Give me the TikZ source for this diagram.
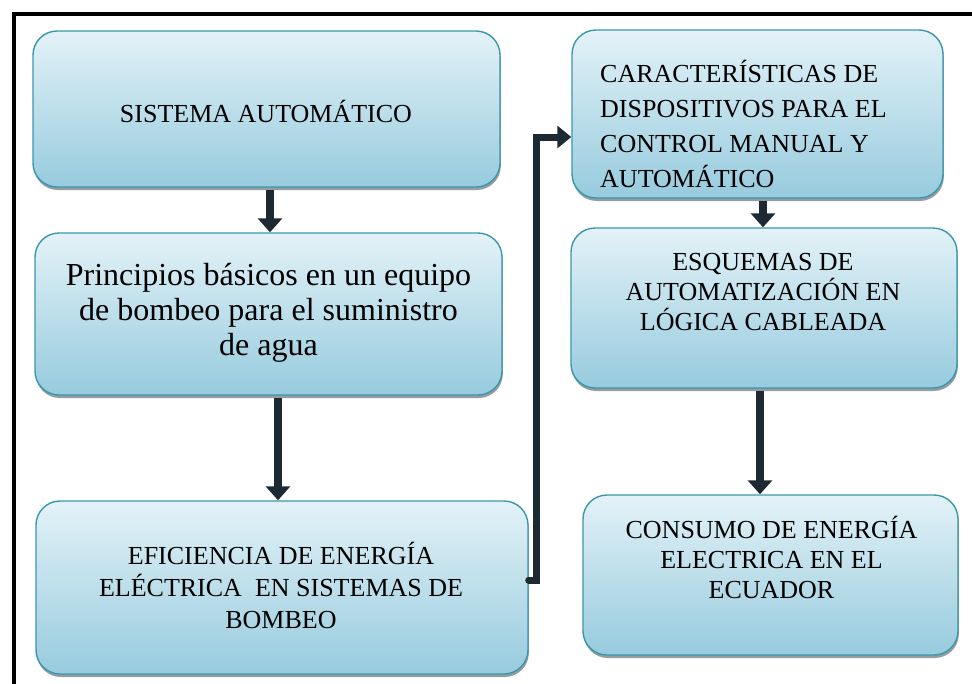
\documentclass[tikz,border=0pt]{standalone}
\usepackage{fontspec}
\setmainfont{Liberation Serif}
\usetikzlibrary{arrows.meta,shadows}
\definecolor{boxtop}{HTML}{E3F2F7}
\definecolor{boxbot}{HTML}{97CBDE}
\definecolor{boxline}{HTML}{3A97AB}
\definecolor{arrowc}{HTML}{1E2A33}
\definecolor{shadowc}{HTML}{8A9296}
\tikzset{
  box/.style={rectangle, rounded corners=24pt, draw=boxline, line width=1.4pt,
    top color=boxtop, bottom color=boxbot, inner sep=0pt,
    drop shadow={shadow xshift=0.8pt, shadow yshift=-3pt, fill=shadowc, opacity=0.9}},
  txt/.style={inner sep=0pt, align=center, text=black},
  arr/.style={line width=8.5pt, draw=arrowc, -{Triangle[width=24pt,length=14pt]}},
  elbow/.style={line width=7pt, draw=arrowc, line cap=round, -{Triangle[width=22pt,length=14pt]}},
  frame/.style={line width=4pt, draw=black}
}
\begin{document}
\begin{tikzpicture}[x=1pt,y=-1pt]
\useasboundingbox (0,0) rectangle (972,683);
\draw[frame] (13.5,690) -- (13.5,13.5) -- (980,13.5);

\node[box, minimum width=467pt, minimum height=156pt] (b1) at (266.5,109) {};
\node[box, minimum width=467pt, minimum height=162pt] (b2) at (268.5,314) {};
\node[box, minimum width=492pt, minimum height=173pt] (b3) at (282,587.5) {};
\node[box, minimum width=371pt, minimum height=168pt] (b4) at (757.5,114) {};
\node[box, minimum width=386pt, minimum height=160pt] (b5) at (764,308) {};
\node[box, minimum width=375pt, minimum height=160pt] (b6) at (770.5,575) {};

\node[txt, font=\fontsize{26}{32}\selectfont] (t1) at (266,111) {SISTEMA AUTOMÁTICO};
\node[txt, font=\fontsize{32}{35}\selectfont] (t2) at (268.5,313) {Principios básicos en un equipo\\de bombeo para el suministro\\de agua};
\node[txt, font=\fontsize{26}{32}\selectfont] (t3) at (281,585) {EFICIENCIA DE ENERGÍA\\ELÉCTRICA\ \ EN SISTEMAS DE\\BOMBEO};
\node[txt, align=left, anchor=west, font=\fontsize{26}{35}\selectfont] (t4) at (600,124) {CARACTERÍSTICAS DE\\DISPOSITIVOS PARA EL\\CONTROL MANUAL Y\\AUTOMÁTICO};
\node[txt, font=\fontsize{26}{30}\selectfont] (t5) at (763,292) {ESQUEMAS DE\\AUTOMATIZACIÓN EN\\LÓGICA CABLEADA};
\node[txt, font=\fontsize{26}{30}\selectfont] (t6) at (771.5,557) {CONSUMO DE ENERGÍA\\ELECTRICA EN EL\\ECUADOR};

\draw[arr] ([xshift=3.5pt,yshift=-2pt]b1.south) -- ([xshift=3.5pt]b1.south |- b2.north);
\draw[arr] ([xshift=9.5pt,yshift=-2pt]b2.south) -- ([xshift=9.5pt]b2.south |- b3.north);
\draw[arr] ([xshift=5.5pt,yshift=-2pt]b4.south) -- ([xshift=5.5pt]b4.south |- b5.north);
\draw[arr] ([xshift=-4pt,yshift=-2pt]b5.south) -- ([xshift=-4pt]b5.south |- b6.north);
\draw[elbow] ([yshift=7.5pt]b3.east) -- ++(8,0) |- ([yshift=-23pt]b4.west);
\end{tikzpicture}
\end{document}
